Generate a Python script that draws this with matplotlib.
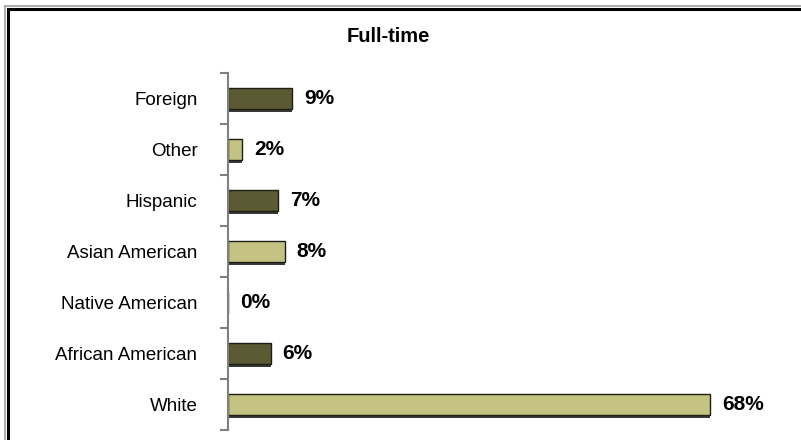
import matplotlib.pyplot as plt
import numpy as np
from matplotlib.lines import Line2D

# Daten
kategorien = ['Foreign', 'Other', 'Hispanic', 'Asian American',
              'Native American', 'African American', 'White']
anteile = [9, 2, 7, 8, 0, 6, 68]
farben = ['#5b5a33', '#c5c382', '#5b5a33', '#c5c382',
          '#5b5a33', '#5b5a33', '#c5c382']

plt.rcParams['font.family'] = ['Liberation Sans', 'DejaVu Sans']

fig = plt.figure(figsize=(8.01, 4.40), dpi=100)
ax = fig.add_axes([228 / 801, 1 - 430 / 440, 0.69, (430 - 73) / 440])

y = np.arange(len(kategorien))

# Schatten unter den Balken
ax.barh(y + 0.05, anteile, height=0.42, color='#3a3a3a', zorder=1)
ax.barh(y, anteile, height=0.42, color=farben, edgecolor='#1e1e14',
        linewidth=1.0, zorder=2)

for yi, wert in zip(y, anteile):
    ax.text(wert + 1.7, yi, f'{wert}%', va='center', ha='left',
            fontsize=15, fontweight='bold', color='black')

ax.set_xlim(0, 78)
ax.set_ylim(len(kategorien) - 0.5, -0.5)
ax.set_yticks(y)
ax.set_yticklabels(kategorien, fontsize=13.5)
ax.set_yticks(np.arange(len(kategorien) + 1) - 0.5, minor=True)
ax.tick_params(axis='y', which='major', length=0, pad=22)
ax.tick_params(axis='y', which='minor', length=6, color='#808080', width=1.5)
ax.set_xticks([])

for s in ['top', 'right', 'bottom']:
    ax.spines[s].set_visible(False)
ax.spines['left'].set_color('#808080')
ax.spines['left'].set_linewidth(1.5)

fig.text(388 / 801, 1 - 37 / 440, 'Full-time', ha='center', va='center',
         fontsize=14.5, fontweight='bold')

# Rahmen oben und links
fig.add_artist(Line2D([5 / 801, 1], [1 - 6 / 440] * 2, color='#a0a0a0', lw=1.2))
fig.add_artist(Line2D([5 / 801] * 2, [0, 1 - 6 / 440], color='#a0a0a0', lw=1.2))
fig.add_artist(Line2D([7.5 / 801, 1], [1 - 9 / 440] * 2, color='black', lw=2.2))
fig.add_artist(Line2D([7.5 / 801] * 2, [0, 1 - 9 / 440], color='black', lw=2.2))

fig.savefig('out.png', dpi=100)
